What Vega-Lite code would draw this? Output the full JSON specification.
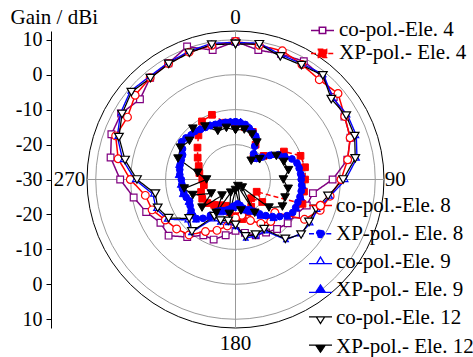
{
  "$schema": "https://vega.github.io/schema/vega-lite/v6.json",
  "width": 297,
  "height": 297,
  "autosize": {"type": "none"},
  "padding": {"left": 87, "top": 31, "right": 89, "bottom": 29},
  "background": "white",
  "config": {"view": {"stroke": null}, "font": "Liberation Serif", "axis": {"labelOverlap": false}, "axisY": {"tickCount": 9, "values": [-40, -30, -20, -10, 0, 10, 20, 30, 40], "labelOverlap": false}},
  "datasets": {
    "gA": [
      {"s":"co-pol.-Ele. 4","a":0,"g":9.5},{"s":"co-pol.-Ele. 4","a":10,"g":7.6},{"s":"co-pol.-Ele. 4","a":20,"g":8.2},{"s":"co-pol.-Ele. 4","a":30,"g":9.1},{"s":"co-pol.-Ele. 4","a":40,"g":8.5},{"s":"co-pol.-Ele. 4","a":50,"g":6.7},{"s":"co-pol.-Ele. 4","a":60,"g":6.0},{"s":"co-pol.-Ele. 4","a":70,"g":5.0},{"s":"co-pol.-Ele. 4","a":80,"g":2.5},{"s":"co-pol.-Ele. 4","a":90,"g":-2.2},{"s":"co-pol.-Ele. 4","a":100,"g":-7.5},{"s":"co-pol.-Ele. 4","a":110,"g":-8.3},{"s":"co-pol.-Ele. 4","a":120,"g":-10.0},{"s":"co-pol.-Ele. 4","a":130,"g":-10.5},{"s":"co-pol.-Ele. 4","a":140,"g":-11.5},{"s":"co-pol.-Ele. 4","a":150,"g":-12.5},{"s":"co-pol.-Ele. 4","a":160,"g":-13.0},{"s":"co-pol.-Ele. 4","a":170,"g":-14.5},{"s":"co-pol.-Ele. 4","a":180,"g":-15.3},{"s":"co-pol.-Ele. 4","a":190,"g":-13.8},{"s":"co-pol.-Ele. 4","a":200,"g":-11.7},{"s":"co-pol.-Ele. 4","a":210,"g":-11.6},{"s":"co-pol.-Ele. 4","a":220,"g":-8.5},{"s":"co-pol.-Ele. 4","a":230,"g":-5.0},{"s":"co-pol.-Ele. 4","a":240,"g":-5.2},{"s":"co-pol.-Ele. 4","a":250,"g":-2.8},{"s":"co-pol.-Ele. 4","a":260,"g":-0.4},{"s":"co-pol.-Ele. 4","a":270,"g":3.0},{"s":"co-pol.-Ele. 4","a":280,"g":6.3},{"s":"co-pol.-Ele. 4","a":290,"g":7.8},{"s":"co-pol.-Ele. 4","a":300,"g":7.8},{"s":"co-pol.-Ele. 4","a":310,"g":5.7},{"s":"co-pol.-Ele. 4","a":320,"g":8.0},{"s":"co-pol.-Ele. 4","a":330,"g":8.4},{"s":"co-pol.-Ele. 4","a":340,"g":10.5},{"s":"co-pol.-Ele. 4","a":350,"g":7.6},{"s":"co-pol.-Ele. 4","a":360,"g":9.5},
      {"s":"XP-pol.- Ele. 4","a":0,"g":-14.2},{"s":"XP-pol.- Ele. 4","a":10,"g":-14.8},{"s":"XP-pol.- Ele. 4","a":20,"g":-15.5},{"s":"XP-pol.- Ele. 4","a":30,"g":-18.5},{"s":"XP-pol.- Ele. 4","a":40,"g":-22.0},{"s":"XP-pol.- Ele. 4","a":50,"g":-19.5},{"s":"XP-pol.- Ele. 4","a":60,"g":-14.0},{"s":"XP-pol.- Ele. 4","a":70,"g":-10.2},{"s":"XP-pol.- Ele. 4","a":80,"g":-9.8},{"s":"XP-pol.- Ele. 4","a":90,"g":-10.1},{"s":"XP-pol.- Ele. 4","a":100,"g":-10.1},{"s":"XP-pol.- Ele. 4","a":110,"g":-9.6},{"s":"XP-pol.- Ele. 4","a":120,"g":-23.0},{"s":"XP-pol.- Ele. 4","a":130,"g":-20.0},{"s":"XP-pol.- Ele. 4","a":140,"g":-23.0},{"s":"XP-pol.- Ele. 4","a":150,"g":-21.0},{"s":"XP-pol.- Ele. 4","a":160,"g":-20.0},{"s":"XP-pol.- Ele. 4","a":170,"g":-18.5},{"s":"XP-pol.- Ele. 4","a":180,"g":-19.5},{"s":"XP-pol.- Ele. 4","a":190,"g":-20.5},{"s":"XP-pol.- Ele. 4","a":200,"g":-22.0},{"s":"XP-pol.- Ele. 4","a":210,"g":-21.5},{"s":"XP-pol.- Ele. 4","a":220,"g":-20.5},{"s":"XP-pol.- Ele. 4","a":230,"g":-19.5},{"s":"XP-pol.- Ele. 4","a":240,"g":-19.0},{"s":"XP-pol.- Ele. 4","a":250,"g":-19.5},{"s":"XP-pol.- Ele. 4","a":260,"g":-20.8},{"s":"XP-pol.- Ele. 4","a":270,"g":-20.5},{"s":"XP-pol.- Ele. 4","a":280,"g":-19.5},{"s":"XP-pol.- Ele. 4","a":290,"g":-18.8},{"s":"XP-pol.- Ele. 4","a":300,"g":-17.5},{"s":"XP-pol.- Ele. 4","a":310,"g":-15.8},{"s":"XP-pol.- Ele. 4","a":320,"g":-13.5},{"s":"XP-pol.- Ele. 4","a":330,"g":-10.8},{"s":"XP-pol.- Ele. 4","a":340,"g":-10.3},{"s":"XP-pol.- Ele. 4","a":350,"g":-13.5},{"s":"XP-pol.- Ele. 4","a":360,"g":-14.2}
    ],
    "gB": [
      {"s":"co-pol.-Ele. 8","a":0,"g":9.5},{"s":"co-pol.-Ele. 8","a":10,"g":9.0},{"s":"co-pol.-Ele. 8","a":20,"g":9.2},{"s":"co-pol.-Ele. 8","a":30,"g":8.0},{"s":"co-pol.-Ele. 8","a":40,"g":7.3},{"s":"co-pol.-Ele. 8","a":50,"g":8.3},{"s":"co-pol.-Ele. 8","a":60,"g":6.1},{"s":"co-pol.-Ele. 8","a":70,"g":4.9},{"s":"co-pol.-Ele. 8","a":80,"g":2.6},{"s":"co-pol.-Ele. 8","a":90,"g":0.2},{"s":"co-pol.-Ele. 8","a":100,"g":-2.5},{"s":"co-pol.-Ele. 8","a":110,"g":-4.2},{"s":"co-pol.-Ele. 8","a":120,"g":-7.2},{"s":"co-pol.-Ele. 8","a":130,"g":-15.3},{"s":"co-pol.-Ele. 8","a":140,"g":-14.3},{"s":"co-pol.-Ele. 8","a":150,"g":-15.5},{"s":"co-pol.-Ele. 8","a":160,"g":-17.5},{"s":"co-pol.-Ele. 8","a":170,"g":-19.6},{"s":"co-pol.-Ele. 8","a":180,"g":-19.0},{"s":"co-pol.-Ele. 8","a":190,"g":-16.5},{"s":"co-pol.-Ele. 8","a":200,"g":-14.5},{"s":"co-pol.-Ele. 8","a":210,"g":-12.8},{"s":"co-pol.-Ele. 8","a":220,"g":-9.3},{"s":"co-pol.-Ele. 8","a":230,"g":-8.0},{"s":"co-pol.-Ele. 8","a":240,"g":-6.8},{"s":"co-pol.-Ele. 8","a":250,"g":-4.6},{"s":"co-pol.-Ele. 8","a":260,"g":-3.8},{"s":"co-pol.-Ele. 8","a":270,"g":0.1},{"s":"co-pol.-Ele. 8","a":280,"g":4.1},{"s":"co-pol.-Ele. 8","a":290,"g":6.5},{"s":"co-pol.-Ele. 8","a":300,"g":5.7},{"s":"co-pol.-Ele. 8","a":310,"g":7.5},{"s":"co-pol.-Ele. 8","a":320,"g":8.0},{"s":"co-pol.-Ele. 8","a":330,"g":8.3},{"s":"co-pol.-Ele. 8","a":340,"g":8.8},{"s":"co-pol.-Ele. 8","a":350,"g":9.0},{"s":"co-pol.-Ele. 8","a":360,"g":9.5},
      {"s":"XP-pol.- Ele. 8","a":0,"g":-13.5},{"s":"XP-pol.- Ele. 8","a":5,"g":-13.7},{"s":"XP-pol.- Ele. 8","a":10,"g":-14.0},{"s":"XP-pol.- Ele. 8","a":15,"g":-14.8},{"s":"XP-pol.- Ele. 8","a":20,"g":-15.5},{"s":"XP-pol.- Ele. 8","a":25,"g":-16.3},{"s":"XP-pol.- Ele. 8","a":30,"g":-19.0},{"s":"XP-pol.- Ele. 8","a":35,"g":-21.0},{"s":"XP-pol.- Ele. 8","a":40,"g":-22.0},{"s":"XP-pol.- Ele. 8","a":45,"g":-21.5},{"s":"XP-pol.- Ele. 8","a":50,"g":-20.0},{"s":"XP-pol.- Ele. 8","a":55,"g":-18.0},{"s":"XP-pol.- Ele. 8","a":60,"g":-15.8},{"s":"XP-pol.- Ele. 8","a":65,"g":-14.5},{"s":"XP-pol.- Ele. 8","a":70,"g":-12.8},{"s":"XP-pol.- Ele. 8","a":75,"g":-11.8},{"s":"XP-pol.- Ele. 8","a":80,"g":-11.5},{"s":"XP-pol.- Ele. 8","a":85,"g":-11.3},{"s":"XP-pol.- Ele. 8","a":90,"g":-11.2},{"s":"XP-pol.- Ele. 8","a":95,"g":-11.0},{"s":"XP-pol.- Ele. 8","a":100,"g":-10.9},{"s":"XP-pol.- Ele. 8","a":105,"g":-10.9},{"s":"XP-pol.- Ele. 8","a":110,"g":-11.0},{"s":"XP-pol.- Ele. 8","a":115,"g":-11.0},{"s":"XP-pol.- Ele. 8","a":120,"g":-11.1},{"s":"XP-pol.- Ele. 8","a":125,"g":-12.0},{"s":"XP-pol.- Ele. 8","a":130,"g":-13.5},{"s":"XP-pol.- Ele. 8","a":135,"g":-15.0},{"s":"XP-pol.- Ele. 8","a":140,"g":-16.5},{"s":"XP-pol.- Ele. 8","a":145,"g":-18.0},{"s":"XP-pol.- Ele. 8","a":150,"g":-19.5},{"s":"XP-pol.- Ele. 8","a":155,"g":-20.5},{"s":"XP-pol.- Ele. 8","a":160,"g":-20.7},{"s":"XP-pol.- Ele. 8","a":165,"g":-21.5},{"s":"XP-pol.- Ele. 8","a":170,"g":-22.5},{"s":"XP-pol.- Ele. 8","a":175,"g":-23.0},{"s":"XP-pol.- Ele. 8","a":180,"g":-22.5},{"s":"XP-pol.- Ele. 8","a":185,"g":-22.3},{"s":"XP-pol.- Ele. 8","a":190,"g":-21.5},{"s":"XP-pol.- Ele. 8","a":195,"g":-21.0},{"s":"XP-pol.- Ele. 8","a":200,"g":-20.5},{"s":"XP-pol.- Ele. 8","a":205,"g":-20.2},{"s":"XP-pol.- Ele. 8","a":210,"g":-19.5},{"s":"XP-pol.- Ele. 8","a":215,"g":-17.5},{"s":"XP-pol.- Ele. 8","a":220,"g":-15.5},{"s":"XP-pol.- Ele. 8","a":225,"g":-14.2},{"s":"XP-pol.- Ele. 8","a":230,"g":-14.0},{"s":"XP-pol.- Ele. 8","a":235,"g":-14.5},{"s":"XP-pol.- Ele. 8","a":240,"g":-15.0},{"s":"XP-pol.- Ele. 8","a":245,"g":-15.5},{"s":"XP-pol.- Ele. 8","a":250,"g":-15.0},{"s":"XP-pol.- Ele. 8","a":255,"g":-14.7},{"s":"XP-pol.- Ele. 8","a":260,"g":-14.6},{"s":"XP-pol.- Ele. 8","a":265,"g":-14.6},{"s":"XP-pol.- Ele. 8","a":270,"g":-14.5},{"s":"XP-pol.- Ele. 8","a":275,"g":-14.0},{"s":"XP-pol.- Ele. 8","a":280,"g":-13.8},{"s":"XP-pol.- Ele. 8","a":285,"g":-13.6},{"s":"XP-pol.- Ele. 8","a":290,"g":-13.5},{"s":"XP-pol.- Ele. 8","a":295,"g":-13.3},{"s":"XP-pol.- Ele. 8","a":300,"g":-12.5},{"s":"XP-pol.- Ele. 8","a":305,"g":-11.2},{"s":"XP-pol.- Ele. 8","a":310,"g":-11.5},{"s":"XP-pol.- Ele. 8","a":315,"g":-12.0},{"s":"XP-pol.- Ele. 8","a":320,"g":-12.0},{"s":"XP-pol.- Ele. 8","a":325,"g":-12.5},{"s":"XP-pol.- Ele. 8","a":330,"g":-12.8},{"s":"XP-pol.- Ele. 8","a":335,"g":-13.0},{"s":"XP-pol.- Ele. 8","a":340,"g":-13.2},{"s":"XP-pol.- Ele. 8","a":345,"g":-13.3},{"s":"XP-pol.- Ele. 8","a":350,"g":-13.4},{"s":"XP-pol.- Ele. 8","a":355,"g":-13.5},{"s":"XP-pol.- Ele. 8","a":360,"g":-13.5},
      {"s":"co-pol.-Ele. 9","a":0,"g":9.2},{"s":"co-pol.-Ele. 9","a":10,"g":9.6},{"s":"co-pol.-Ele. 9","a":20,"g":8.0},{"s":"co-pol.-Ele. 9","a":30,"g":8.2},{"s":"co-pol.-Ele. 9","a":40,"g":9.2},{"s":"co-pol.-Ele. 9","a":50,"g":6.3},{"s":"co-pol.-Ele. 9","a":60,"g":7.0},{"s":"co-pol.-Ele. 9","a":70,"g":6.8},{"s":"co-pol.-Ele. 9","a":80,"g":5.3},{"s":"co-pol.-Ele. 9","a":90,"g":1.5},{"s":"co-pol.-Ele. 9","a":100,"g":-2.5},{"s":"co-pol.-Ele. 9","a":110,"g":-5.0},{"s":"co-pol.-Ele. 9","a":120,"g":-5.2},{"s":"co-pol.-Ele. 9","a":130,"g":-5.8},{"s":"co-pol.-Ele. 9","a":140,"g":-7.5},{"s":"co-pol.-Ele. 9","a":150,"g":-13.0},{"s":"co-pol.-Ele. 9","a":160,"g":-12.8},{"s":"co-pol.-Ele. 9","a":170,"g":-13.0},{"s":"co-pol.-Ele. 9","a":180,"g":-16.5},{"s":"co-pol.-Ele. 9","a":190,"g":-17.5},{"s":"co-pol.-Ele. 9","a":200,"g":-17.0},{"s":"co-pol.-Ele. 9","a":210,"g":-17.0},{"s":"co-pol.-Ele. 9","a":220,"g":-10.2},{"s":"co-pol.-Ele. 9","a":230,"g":-12.0},{"s":"co-pol.-Ele. 9","a":240,"g":-7.3},{"s":"co-pol.-Ele. 9","a":250,"g":-5.8},{"s":"co-pol.-Ele. 9","a":260,"g":-6.0},{"s":"co-pol.-Ele. 9","a":270,"g":-1.2},{"s":"co-pol.-Ele. 9","a":280,"g":2.8},{"s":"co-pol.-Ele. 9","a":290,"g":6.0},{"s":"co-pol.-Ele. 9","a":300,"g":8.0},{"s":"co-pol.-Ele. 9","a":310,"g":9.3},{"s":"co-pol.-Ele. 9","a":320,"g":8.4},{"s":"co-pol.-Ele. 9","a":330,"g":8.6},{"s":"co-pol.-Ele. 9","a":340,"g":9.0},{"s":"co-pol.-Ele. 9","a":350,"g":9.6},{"s":"co-pol.-Ele. 9","a":360,"g":9.2},
      {"s":"XP-pol.- Ele. 9","a":5,"g":-13.3},{"s":"XP-pol.- Ele. 9","a":15,"g":-14.4},{"s":"XP-pol.- Ele. 9","a":25,"g":-16.0},{"s":"XP-pol.- Ele. 9","a":35,"g":-20.5},{"s":"XP-pol.- Ele. 9","a":45,"g":-21.0},{"s":"XP-pol.- Ele. 9","a":55,"g":-17.5},{"s":"XP-pol.- Ele. 9","a":65,"g":-14.0},{"s":"XP-pol.- Ele. 9","a":75,"g":-11.5},{"s":"XP-pol.- Ele. 9","a":85,"g":-11.0},{"s":"XP-pol.- Ele. 9","a":95,"g":-10.7},{"s":"XP-pol.- Ele. 9","a":105,"g":-10.6},{"s":"XP-pol.- Ele. 9","a":115,"g":-10.8},{"s":"XP-pol.- Ele. 9","a":125,"g":-11.8},{"s":"XP-pol.- Ele. 9","a":135,"g":-14.6},{"s":"XP-pol.- Ele. 9","a":145,"g":-17.5},{"s":"XP-pol.- Ele. 9","a":155,"g":-20.0},{"s":"XP-pol.- Ele. 9","a":165,"g":-21.0},{"s":"XP-pol.- Ele. 9","a":175,"g":-22.5},{"s":"XP-pol.- Ele. 9","a":185,"g":-22.0},{"s":"XP-pol.- Ele. 9","a":195,"g":-20.6},{"s":"XP-pol.- Ele. 9","a":205,"g":-19.8},{"s":"XP-pol.- Ele. 9","a":215,"g":-17.0},{"s":"XP-pol.- Ele. 9","a":225,"g":-14.0},{"s":"XP-pol.- Ele. 9","a":235,"g":-14.2},{"s":"XP-pol.- Ele. 9","a":245,"g":-15.2},{"s":"XP-pol.- Ele. 9","a":255,"g":-14.4},{"s":"XP-pol.- Ele. 9","a":265,"g":-14.3},{"s":"XP-pol.- Ele. 9","a":275,"g":-13.7},{"s":"XP-pol.- Ele. 9","a":285,"g":-13.3},{"s":"XP-pol.- Ele. 9","a":295,"g":-13.0},{"s":"XP-pol.- Ele. 9","a":305,"g":-11.0},{"s":"XP-pol.- Ele. 9","a":315,"g":-11.7},{"s":"XP-pol.- Ele. 9","a":325,"g":-12.2},{"s":"XP-pol.- Ele. 9","a":335,"g":-12.7},{"s":"XP-pol.- Ele. 9","a":345,"g":-13.0},{"s":"XP-pol.- Ele. 9","a":355,"g":-13.2},{"s":"XP-pol.- Ele. 9","a":365,"g":-13.3},
      {"s":"co-pol.-Ele. 12","a":0,"g":8.8},{"s":"co-pol.-Ele. 12","a":10,"g":9.3},{"s":"co-pol.-Ele. 12","a":20,"g":7.5},{"s":"co-pol.-Ele. 12","a":30,"g":7.8},{"s":"co-pol.-Ele. 12","a":40,"g":8.9},{"s":"co-pol.-Ele. 12","a":50,"g":5.8},{"s":"co-pol.-Ele. 12","a":60,"g":6.6},{"s":"co-pol.-Ele. 12","a":70,"g":6.3},{"s":"co-pol.-Ele. 12","a":80,"g":4.8},{"s":"co-pol.-Ele. 12","a":90,"g":0.8},{"s":"co-pol.-Ele. 12","a":100,"g":-3.1},{"s":"co-pol.-Ele. 12","a":110,"g":-5.5},{"s":"co-pol.-Ele. 12","a":120,"g":-5.7},{"s":"co-pol.-Ele. 12","a":130,"g":-5.5},{"s":"co-pol.-Ele. 12","a":140,"g":-7.8},{"s":"co-pol.-Ele. 12","a":150,"g":-13.6},{"s":"co-pol.-Ele. 12","a":160,"g":-13.2},{"s":"co-pol.-Ele. 12","a":170,"g":-13.5},{"s":"co-pol.-Ele. 12","a":180,"g":-17.0},{"s":"co-pol.-Ele. 12","a":190,"g":-18.0},{"s":"co-pol.-Ele. 12","a":200,"g":-17.5},{"s":"co-pol.-Ele. 12","a":210,"g":-17.9},{"s":"co-pol.-Ele. 12","a":220,"g":-10.6},{"s":"co-pol.-Ele. 12","a":230,"g":-12.7},{"s":"co-pol.-Ele. 12","a":240,"g":-7.9},{"s":"co-pol.-Ele. 12","a":250,"g":-6.3},{"s":"co-pol.-Ele. 12","a":260,"g":-6.7},{"s":"co-pol.-Ele. 12","a":270,"g":-1.8},{"s":"co-pol.-Ele. 12","a":280,"g":2.1},{"s":"co-pol.-Ele. 12","a":290,"g":5.5},{"s":"co-pol.-Ele. 12","a":300,"g":7.5},{"s":"co-pol.-Ele. 12","a":310,"g":8.9},{"s":"co-pol.-Ele. 12","a":320,"g":7.9},{"s":"co-pol.-Ele. 12","a":330,"g":8.2},{"s":"co-pol.-Ele. 12","a":340,"g":8.6},{"s":"co-pol.-Ele. 12","a":350,"g":9.2},{"s":"co-pol.-Ele. 12","a":360,"g":8.8},
      {"s":"XP-pol.- Ele. 12","a":0,"g":-15.8},{"s":"XP-pol.- Ele. 12","a":10,"g":-15.5},{"s":"XP-pol.- Ele. 12","a":20,"g":-16.3},{"s":"XP-pol.- Ele. 12","a":30,"g":-17.8},{"s":"XP-pol.- Ele. 12","a":40,"g":-23.0},{"s":"XP-pol.- Ele. 12","a":50,"g":-21.0},{"s":"XP-pol.- Ele. 12","a":60,"g":-16.5},{"s":"XP-pol.- Ele. 12","a":70,"g":-15.3},{"s":"XP-pol.- Ele. 12","a":80,"g":-14.6},{"s":"XP-pol.- Ele. 12","a":90,"g":-16.3},{"s":"XP-pol.- Ele. 12","a":100,"g":-14.7},{"s":"XP-pol.- Ele. 12","a":110,"g":-14.9},{"s":"XP-pol.- Ele. 12","a":120,"g":-14.5},{"s":"XP-pol.- Ele. 12","a":130,"g":-17.5},{"s":"XP-pol.- Ele. 12","a":140,"g":-27.0},{"s":"XP-pol.- Ele. 12","a":150,"g":-19.0},{"s":"XP-pol.- Ele. 12","a":160,"g":-28.0},{"s":"XP-pol.- Ele. 12","a":170,"g":-21.0},{"s":"XP-pol.- Ele. 12","a":180,"g":-27.0},{"s":"XP-pol.- Ele. 12","a":190,"g":-20.0},{"s":"XP-pol.- Ele. 12","a":200,"g":-26.0},{"s":"XP-pol.- Ele. 12","a":210,"g":-19.0},{"s":"XP-pol.- Ele. 12","a":220,"g":-24.0},{"s":"XP-pol.- Ele. 12","a":230,"g":-17.5},{"s":"XP-pol.- Ele. 12","a":240,"g":-22.0},{"s":"XP-pol.- Ele. 12","a":250,"g":-17.0},{"s":"XP-pol.- Ele. 12","a":260,"g":-15.1},{"s":"XP-pol.- Ele. 12","a":270,"g":-21.7},{"s":"XP-pol.- Ele. 12","a":280,"g":-19.0},{"s":"XP-pol.- Ele. 12","a":290,"g":-12.5},{"s":"XP-pol.- Ele. 12","a":300,"g":-11.8},{"s":"XP-pol.- Ele. 12","a":310,"g":-12.8},{"s":"XP-pol.- Ele. 12","a":320,"g":-11.0},{"s":"XP-pol.- Ele. 12","a":330,"g":-12.5},{"s":"XP-pol.- Ele. 12","a":340,"g":-15.2},{"s":"XP-pol.- Ele. 12","a":350,"g":-15.0},{"s":"XP-pol.- Ele. 12","a":360,"g":-15.8}
    ]
  },
  "layer": [
    {
      "data": {"values": [{"g": -20}, {"g": -10}, {"g": 0}, {"g": 10}, {"g": 12.5}]},
      "transform": [{"calculate": "datum.g + 30", "as": "r"}],
      "mark": {"type": "point", "shape": "circle", "filled": false, "opacity": 1, "strokeWidth": 1},
      "encoding": {
        "x": {"datum": 0, "type": "quantitative", "scale": {"domain": [-42.5, 42.5], "nice": false, "zero": false}, "axis": null},
        "y": {"datum": 0, "type": "quantitative", "scale": {"domain": [-42.5, 42.5], "nice": false, "zero": false},
          "axis": {
            "values": [-40, -30, -20, -10, 0, 10, 20, 30, 40],
            "tickCount": 9,
            "labelExpr": "'' + (abs(datum.value) - 30)",
            "offset": 36,
            "grid": false,
            "domainColor": "#000000",
            "domainWidth": 1,
            "tickColor": "#000000",
            "tickWidth": 1,
            "tickSize": 5,
            "labelFont": "Liberation Serif",
            "labelFontSize": 20,
            "labelColor": "#000000",
            "labelPadding": 4,
            "labelOverlap": false,
            "labelFlush": false,
            "labelBound": false,
            "title": "Gain / dBi",
            "titleAngle": 0,
            "titleAlign": "left",
            "titleBaseline": "alphabetic",
            "titleX": -41,
            "titleY": -8,
            "titleFont": "Liberation Serif",
            "titleFontSize": 21,
            "titleFontWeight": "normal",
            "titleColor": "#000000"
          }
        },
        "size": {"field": "r", "type": "quantitative", "scale": {"type": "pow", "exponent": 2, "domain": [0, 42.5], "range": [0, 88209], "zero": true, "nice": false}, "legend": null},
        "stroke": {"condition": {"test": "datum.g > 11", "value": "#000000"}, "value": "#999999"}
      }
    },
    {
      "data": {"values": [{}]},
      "mark": {"type": "rule", "color": "#999999", "strokeWidth": 1},
      "encoding": {
        "x": {"datum": -42.5, "type": "quantitative", "scale": {"domain": [-42.5, 42.5], "nice": false, "zero": false}, "axis": null},
        "x2": {"datum": 42.5},
        "y": {"datum": 0, "type": "quantitative", "scale": {"domain": [-42.5, 42.5], "nice": false, "zero": false}}
      }
    },
    {
      "data": {"values": [{}]},
      "mark": {"type": "rule", "color": "#999999", "strokeWidth": 1},
      "encoding": {
        "x": {"datum": 0, "type": "quantitative", "scale": {"domain": [-42.5, 42.5], "nice": false, "zero": false}, "axis": null},
        "y": {"datum": -42.5, "type": "quantitative", "scale": {"domain": [-42.5, 42.5], "nice": false, "zero": false}},
        "y2": {"datum": 42.5}
      }
    },
    {
      "data": {"name": "gA"},
      "transform": [
        {"calculate": "(max(datum.g, -30) + 30) * sin(datum.a * PI / 180)", "as": "x"},
        {"calculate": "(max(datum.g, -30) + 30) * cos(datum.a * PI / 180)", "as": "y"}
      ],
      "encoding": {
        "x": {"field": "x", "type": "quantitative", "scale": {"domain": [-42.5, 42.5], "nice": false, "zero": false}, "axis": null},
        "y": {"field": "y", "type": "quantitative", "scale": {"domain": [-42.5, 42.5], "nice": false, "zero": false}}
      },
      "layer": [
        {
          "mark": {"type": "line", "strokeJoin": "round"},
          "encoding": {
            "order": {"field": "a", "type": "quantitative"},
            "color": {"field": "s", "type": "nominal",
              "scale": {"domain": ["co-pol.-Ele. 4", "XP-pol.- Ele. 4"], "range": ["#800080", "#ff0000"]},
              "legend": {"orient": "none", "legendX": 223, "legendY": -13.1, "title": null, "padding": 0, "symbolSize": 529, "symbolStrokeWidth": 1.5, "rowPadding": 0, "labelOffset": 4, "labelLimit": 300, "labelFont": "Liberation Serif", "labelFontSize": 21, "labelColor": "#000000"}
            },
            "strokeDash": {"field": "s", "type": "nominal", "scale": {"domain": ["co-pol.-Ele. 4", "XP-pol.- Ele. 4"], "range": [[1, 0], [5, 3]]}, "legend": null},
            "strokeWidth": {"field": "s", "type": "nominal", "scale": {"domain": ["co-pol.-Ele. 4", "XP-pol.- Ele. 4"], "range": [1.5, 1.5]}, "legend": null}
          }
        },
        {
          "transform": [{"filter": "datum.s == 'co-pol.-Ele. 4'"}],
          "mark": {"type": "point", "shape": "square", "size": 45, "fill": "#ffffff", "stroke": "#800080", "strokeWidth": 1.2, "opacity": 1}
        },
        {
          "transform": [{"filter": "datum.s == 'XP-pol.- Ele. 4'"}],
          "mark": {"type": "point", "shape": "square", "size": 45, "fill": "#ff0000", "stroke": "#ff0000", "strokeWidth": 1, "opacity": 1}
        },
        {
          "transform": [{"filter": "false"}],
          "mark": {"type": "point", "opacity": 1, "filled": false},
          "encoding": {
            "color": {"field": "s", "type": "nominal",
              "scale": {"domain": ["co-pol.-Ele. 4", "XP-pol.- Ele. 4"], "range": ["#800080", "#ff0000"]},
              "legend": {"orient": "none", "legendX": 223, "legendY": -13.1, "title": null, "padding": 0, "symbolSize": 529, "symbolStrokeWidth": 1.5, "rowPadding": 0, "labelOffset": 4, "labelLimit": 300, "labelFont": "Liberation Serif", "labelFontSize": 21, "labelColor": "#000000"}
            },
            "fill": {"field": "s", "type": "nominal", "scale": {"domain": ["co-pol.-Ele. 4", "XP-pol.- Ele. 4"], "range": ["#ffffff", "#ff0000"]}},
            "shape": {"field": "s", "type": "nominal", "scale": {"domain": ["co-pol.-Ele. 4", "XP-pol.- Ele. 4"], "range": ["M-1,0H-0.28M0.28,0H1M-0.28,-0.28H0.28V0.28H-0.28Z", "M-1,0H-0.5M0.5,0H1M-0.36,-0.36H0.36V0.36H-0.36Z"]}}
          }
        }
      ]
    },
    {
      "data": {"name": "gB"},
      "transform": [
        {"calculate": "(max(datum.g, -30) + 30) * sin(datum.a * PI / 180)", "as": "x"},
        {"calculate": "(max(datum.g, -30) + 30) * cos(datum.a * PI / 180)", "as": "y"}
      ],
      "encoding": {
        "x": {"field": "x", "type": "quantitative", "scale": {"domain": [-42.5, 42.5], "nice": false, "zero": false}, "axis": null},
        "y": {"field": "y", "type": "quantitative", "scale": {"domain": [-42.5, 42.5], "nice": false, "zero": false}}
      },
      "layer": [
        {
          "mark": {"type": "line", "strokeJoin": "round"},
          "encoding": {
            "order": {"field": "a", "type": "quantitative"},
            "color": {"field": "s", "type": "nominal",
              "scale": {"domain": ["co-pol.-Ele. 8", "XP-pol.- Ele. 8", "co-pol.-Ele. 9", "XP-pol.- Ele. 9", "co-pol.-Ele. 12", "XP-pol.- Ele. 12"], "range": ["#ff0000", "#0000ff", "#0000ff", "#0000ff", "#000000", "#000000"]},
              "legend": {"orient": "none", "legendX": 221, "legendY": 162, "title": null, "padding": 0, "symbolSize": 529, "symbolStrokeWidth": 1.5, "rowPadding": 5.2, "labelOffset": 3, "labelLimit": 300, "labelFont": "Liberation Serif", "labelFontSize": 21, "labelColor": "#000000"}
            },
            "strokeDash": {"field": "s", "type": "nominal", "scale": {"domain": ["co-pol.-Ele. 8", "XP-pol.- Ele. 8", "co-pol.-Ele. 9", "XP-pol.- Ele. 9", "co-pol.-Ele. 12", "XP-pol.- Ele. 12"], "range": [[1, 0], [5, 3], [1, 0], [1, 0], [1, 0], [1, 0]]}, "legend": null},
            "strokeWidth": {"field": "s", "type": "nominal", "scale": {"domain": ["co-pol.-Ele. 8", "XP-pol.- Ele. 8", "co-pol.-Ele. 9", "XP-pol.- Ele. 9", "co-pol.-Ele. 12", "XP-pol.- Ele. 12"], "range": [1.5, 1.2, 1.2, 1.5, 1.8, 2.5]}, "legend": null}
          }
        },
        {
          "transform": [{"filter": "datum.s == 'co-pol.-Ele. 8'"}],
          "mark": {"type": "point", "shape": "circle", "size": 60, "fill": "#ffffff", "stroke": "#ff0000", "strokeWidth": 1.2, "opacity": 1}
        },
        {
          "transform": [{"filter": "datum.s == 'XP-pol.- Ele. 8'"}],
          "mark": {"type": "point", "shape": "circle", "size": 45, "fill": "#0000ff", "stroke": "#0000ff", "strokeWidth": 1, "opacity": 1}
        },
        {
          "transform": [{"filter": "datum.s == 'co-pol.-Ele. 9'"}],
          "mark": {"type": "point", "shape": "triangle-up", "size": 22, "fill": "#ffffff", "stroke": "#0000ff", "strokeWidth": 1.2, "opacity": 1}
        },
        {
          "transform": [{"filter": "datum.s == 'XP-pol.- Ele. 9'"}],
          "mark": {"type": "point", "shape": "triangle-up", "size": 50, "fill": "#0000ff", "stroke": "#0000ff", "strokeWidth": 1, "opacity": 1}
        },
        {
          "transform": [{"filter": "datum.s == 'co-pol.-Ele. 12'"}],
          "mark": {"type": "point", "shape": "triangle-down", "size": 75, "fill": "#ffffff", "stroke": "#000000", "strokeWidth": 1.2, "opacity": 1}
        },
        {
          "transform": [{"filter": "datum.s == 'XP-pol.- Ele. 12'"}],
          "mark": {"type": "point", "shape": "triangle-down", "size": 75, "fill": "#000000", "stroke": "#000000", "strokeWidth": 1, "opacity": 1}
        },
        {
          "transform": [{"filter": "false"}],
          "mark": {"type": "point", "opacity": 1, "filled": false},
          "encoding": {
            "color": {"field": "s", "type": "nominal",
              "scale": {"domain": ["co-pol.-Ele. 8", "XP-pol.- Ele. 8", "co-pol.-Ele. 9", "XP-pol.- Ele. 9", "co-pol.-Ele. 12", "XP-pol.- Ele. 12"], "range": ["#ff0000", "#0000ff", "#0000ff", "#0000ff", "#000000", "#000000"]},
              "legend": {"orient": "none", "legendX": 221, "legendY": 162, "title": null, "padding": 0, "symbolSize": 529, "symbolStrokeWidth": 1.5, "rowPadding": 5.2, "labelOffset": 3, "labelLimit": 300, "labelFont": "Liberation Serif", "labelFontSize": 21, "labelColor": "#000000"}
            },
            "fill": {"field": "s", "type": "nominal", "scale": {"domain": ["co-pol.-Ele. 8", "XP-pol.- Ele. 8", "co-pol.-Ele. 9", "XP-pol.- Ele. 9", "co-pol.-Ele. 12", "XP-pol.- Ele. 12"], "range": ["#ffffff", "#0000ff", "#ffffff", "#0000ff", "#ffffff", "#000000"]}},
            "shape": {"field": "s", "type": "nominal", "scale": {"domain": ["co-pol.-Ele. 8", "XP-pol.- Ele. 8", "co-pol.-Ele. 9", "XP-pol.- Ele. 9", "co-pol.-Ele. 12", "XP-pol.- Ele. 12"], "range": ["M-1,0H-0.36M0.36,0H1M-0.36,0A0.36,0.36,0,1,1,0.36,0A0.36,0.36,0,1,1,-0.36,0Z", "M-1,0H-0.5M0.5,0H1M-0.34,0A0.34,0.34,0,1,1,0.34,0A0.34,0.34,0,1,1,-0.34,0Z", "M-1,0.15H-0.34M0.34,0.15H1M-0.34,0.15L0,-0.42L0.34,0.15Z", "M-1,0.2H1M-0.42,0.2L0,-0.45L0.42,0.2Z", "M-1,-0.12H1M-0.36,-0.12L0.36,-0.12L0,0.45Z", "M-1,-0.12H1M-0.42,-0.12L0.42,-0.12L0,0.5Z"]}}
          }
        }
      ]
    },
    {
      "data": {"values": [{"t": "0"}]},
      "mark": {"type": "text", "font": "Liberation Serif", "fontSize": 21, "color": "#000000", "align": "center", "baseline": "middle"},
      "encoding": {
        "text": {"field": "t"},
        "x": {"datum": 0, "type": "quantitative", "scale": {"domain": [-42.5, 42.5], "nice": false, "zero": false}, "axis": null},
        "y": {"datum": 46.1, "type": "quantitative", "scale": {"domain": [-42.5, 42.5], "nice": false, "zero": false}}
      }
    },
    {
      "data": {"values": [{"t": "90"}]},
      "mark": {"type": "text", "font": "Liberation Serif", "fontSize": 21, "color": "#000000", "align": "left", "baseline": "middle"},
      "encoding": {
        "text": {"field": "t"},
        "x": {"datum": 42.7, "type": "quantitative", "scale": {"domain": [-42.5, 42.5], "nice": false, "zero": false}, "axis": null},
        "y": {"datum": 0, "type": "quantitative", "scale": {"domain": [-42.5, 42.5], "nice": false, "zero": false}}
      }
    },
    {
      "data": {"values": [{"t": "180"}]},
      "mark": {"type": "text", "font": "Liberation Serif", "fontSize": 21, "color": "#000000", "align": "center", "baseline": "middle"},
      "encoding": {
        "text": {"field": "t"},
        "x": {"datum": 0, "type": "quantitative", "scale": {"domain": [-42.5, 42.5], "nice": false, "zero": false}, "axis": null},
        "y": {"datum": -47.2, "type": "quantitative", "scale": {"domain": [-42.5, 42.5], "nice": false, "zero": false}}
      }
    },
    {
      "data": {"values": [{"t": "270"}]},
      "mark": {"type": "text", "font": "Liberation Serif", "fontSize": 21, "color": "#000000", "align": "right", "baseline": "middle"},
      "encoding": {
        "text": {"field": "t"},
        "x": {"datum": -43.0, "type": "quantitative", "scale": {"domain": [-42.5, 42.5], "nice": false, "zero": false}, "axis": null},
        "y": {"datum": 0, "type": "quantitative", "scale": {"domain": [-42.5, 42.5], "nice": false, "zero": false}}
      }
    }
  ],
  "resolve": {
    "scale": {"color": "independent", "fill": "independent", "shape": "independent", "size": "independent", "strokeDash": "independent", "strokeWidth": "independent"},
    "legend": {"color": "independent", "fill": "independent", "shape": "independent"}
  }
}
